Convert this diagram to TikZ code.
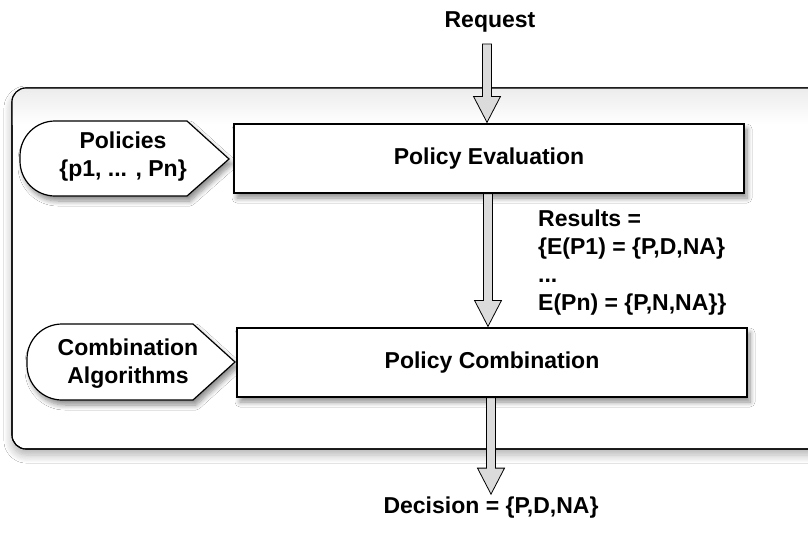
\documentclass[tikz,border=0pt]{standalone}
\usepackage{fontspec}
\setmainfont{Liberation Sans}
\usetikzlibrary{calc,shadows.blur}

\tikzset{
  lbl/.style={font=\fontsize{23}{28}\selectfont\bfseries, inner sep=0pt, align=center},
  softshadow/.style={blur shadow={shadow xshift=3pt, shadow yshift=-5pt, shadow blur radius=5pt, shadow blur steps=8, shadow opacity=45}},
  procbox/.style={draw=black, line width=1.2pt, fill=white, minimum width=510pt, minimum height=69pt, softshadow, lbl},
  tagshape/.style={draw=black, line width=1.2pt, fill=white, softshadow},
  blockarr/.style={draw=black, line width=0.8pt, fill=gray!28},
  frame/.style={draw=black, line width=1.1pt, rounded corners=14pt}
}

\newcommand\blockarrowdown[2]{%
  \path[blockarr] let \p1=(#1), \p2=(#2) in
    (\x2-4.5pt,\y1) -- (\x2-4.5pt,\y2+26pt) -- (\x2-13.5pt,\y2+26pt) -- (\x2,\y2)
    -- (\x2+13.5pt,\y2+26pt) -- (\x2+4.5pt,\y2+26pt) -- (\x2+4.5pt,\y1) -- cycle;}

\begin{document}
\begin{tikzpicture}[x=1pt,y=-1pt]
\useasboundingbox[fill=white] (0,0) rectangle (808,533);

% outer frame
\path[frame, fill=white, blur shadow={shadow xshift=0pt, shadow yshift=-6pt, shadow blur radius=8pt, shadow blur steps=8, shadow opacity=30}] (12,88) rectangle (850,449);
\begin{scope}
  \clip[rounded corners=14pt] (12,88) rectangle (850,449);
  \fill[top color=gray!15, bottom color=white] (0,88) rectangle (850,124);
\end{scope}
\draw[frame] (12,88) rectangle (850,449);

% tags
\filldraw[tagshape] (187,121) -- (229,159) -- (187,196) [rounded corners=35pt]-- (20,196) -- (20,121) [sharp corners]-- cycle;
\node[lbl] (pol) at (123,157) {Policies\\\{p1, ... , Pn\}};

\filldraw[tagshape] (193,324) -- (235,362) -- (193,400) [rounded corners=35pt]-- (27,400) -- (27,324) [sharp corners]-- cycle;
\node[lbl] (alg) at (128,364) {Combination\\Algorithms};

% process boxes
\node[procbox] (eval) at (489,158.5) {Policy Evaluation};
\node[procbox] (comb) at (492,362.5) {Policy Combination};

% texts
\node[lbl, anchor=base] (req) at (490,27) {Request};
\node[lbl, anchor=base] (dec) at (491,513) {Decision = \{P,D,NA\}};
\node[lbl, align=left, anchor=north west] (res) at (538,210) {Results =\\\{E(P1) = \{P,D,NA\}\\...\\E(Pn) = \{P,N,NA\}\}};

% arrows
\blockarrowdown{$(req.south)+(0,-12pt)$}{$(eval.north)+(-2pt,1pt)$}
\blockarrowdown{eval.south}{$(comb.north)+(-4pt,1pt)$}
\blockarrowdown{comb.south}{$(dec.north)+(0,2pt)$}
\end{tikzpicture}
\end{document}
